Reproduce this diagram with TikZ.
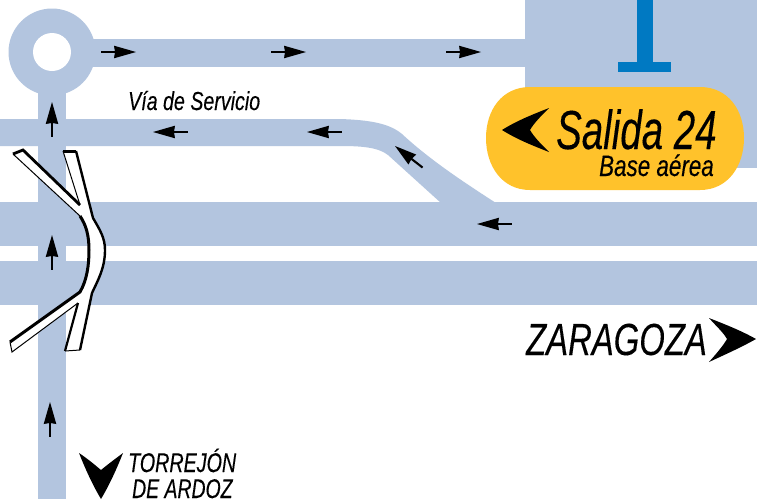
\documentclass[tikz,border=0pt]{standalone}
\usepackage{fontspec}
\setmainfont{Liberation Sans}[ItalicFeatures={FakeBold=0.25}]
\definecolor{roadc}{HTML}{B3C5DF}
\definecolor{signc}{HTML}{FFC22B}
\definecolor{tbarc}{HTML}{0079C2}
\tikzset{
  road/.style={fill=roadc,draw=none},
  bigtip/.style={fill=black,draw=none},
  label/.style={inner sep=0pt,anchor=base west,font=\itshape,text=black},
  pics/dirarrow/.style={code={
    \fill[black] (0,0) -- (-22,-6.3) -- (-21,0) -- (-22,6.3) -- cycle;
    \draw[black,line width=2.1pt] (-20,0) -- (-35,0);
  }}
}
\begin{document}
\begin{tikzpicture}[x=1pt,y=-1pt]
\useasboundingbox (0,0) rectangle (757,499);
\fill[white] (0,0) rectangle (757,499);
% roads
\fill[road] (52,52) circle[radius=43.5];
\fill[road] (38,70) rectangle (66,499);
\fill[road] (60,39) rectangle (530,67);
\fill[road] (525,0) rectangle (757,168);
\fill[road] (0,202) rectangle (757,246);
\fill[road] (0,261) rectangle (757,305);
\fill[road] (0,119) -- (340,119) .. controls (372,120) and (390,124) .. (402,134)
  .. controls (430,160) and (465,183) .. (496,203) -- (441,203)
  -- (388,155) .. controls (378,147) and (360,146) .. (340,146) -- (0,146) -- cycle;
\fill[white] (52,52) circle[radius=19];
% exit sign
\fill[signc] (530,87) -- (700,87) .. controls (728,87) and (744,110) .. (744,138)
  .. controls (744,166) and (728,190) .. (700,190) -- (530,190)
  .. controls (502,190) and (486,166) .. (486,138)
  .. controls (486,110) and (502,87) .. (530,87) -- cycle;
% blue T
\fill[tbarc] (637,0) rectangle (653,62);
\fill[tbarc] (618,62) rectangle (671,72);
% bridge
\fill[white] (13,154) -- (23,150) -- (80,205) -- (63,151) -- (76,151) -- (93,218)
  .. controls (100,230) and (105,238) .. (105,250)
  .. controls (105,268) and (98,280) .. (92,293)
  -- (80,350) -- (65,351) -- (78,303) -- (12,352) -- (10,342) -- (80,292)
  .. controls (87,280) and (89,265) .. (89,250)
  .. controls (89,235) and (86,225) .. (80,216) -- cycle;
\draw[black,line width=1pt] (13,154) -- (80,216);
\draw[black,line width=2.8pt] (13,154) -- (23,150) -- (80,205);
\draw[black,line width=1pt] (80,205) -- (63,151);
\draw[black,line width=2.8pt] (63,151.5) -- (76,151.5);
\draw[black,line width=2.4pt] (76,151) -- (93,218)
  .. controls (100,230) and (105,238) .. (105,250)
  .. controls (105,268) and (98,280) .. (92,293) -- (80,350);
\draw[black,line width=1pt] (80,350) -- (65,351);
\draw[black,line width=2.2pt] (65,351) -- (78,303);
\draw[black,line width=1pt] (78,303) -- (12,352) -- (10,342);
\draw[black,line width=3pt] (10,342) -- (80,292)
  .. controls (87,280) and (89,265) .. (89,250)
  .. controls (89,235) and (86,225) .. (80,216);
% direction arrows
\pic at (136,52) {dirarrow};
\pic at (306,52) {dirarrow};
\pic at (481,52) {dirarrow};
\pic[rotate=180] at (153,132) {dirarrow};
\pic[rotate=180] at (307,132) {dirarrow};
\pic[rotate=180] at (477,224) {dirarrow};
\pic[rotate=142] at (395,146) {dirarrow};
\pic[rotate=90] at (52,102) {dirarrow};
\pic[rotate=90] at (52,235) {dirarrow};
\pic[rotate=90] at (50,402) {dirarrow};
% big arrowheads
\fill[bigtip] (502,130) .. controls (518,120) and (534,114) .. (549,108)
  .. controls (541,116) and (534,123) .. (530,130)
  .. controls (534,137) and (541,144) .. (549,152)
  .. controls (534,146) and (518,140) .. (502,130) -- cycle;
\fill[bigtip] (756,339) .. controls (740,330) and (724,324) .. (709,318)
  .. controls (716,326) and (723,332) .. (727,339)
  .. controls (723,346) and (716,354) .. (709,362)
  .. controls (724,355) and (740,348) .. (756,339) -- cycle;
\fill[bigtip] (79,453) .. controls (88,459) and (95,465) .. (101,470)
  .. controls (107,465) and (115,459) .. (123,453)
  .. controls (117,468) and (110,484) .. (101,499)
  .. controls (92,484) and (85,468) .. (79,453) -- cycle;
% labels
\node[label,xscale=.70] (salida) at (556,149) {\fontsize{55}{55}\selectfont Salida 24};
\node[label,xscale=.76] (base) at (599,176) {\fontsize{29.5}{29.5}\selectfont Base aérea};
\node[label,xscale=.73] (zaragoza) at (526,355) {\fontsize{45}{45}\selectfont ZARAGOZA};
\node[label,xscale=.73] (torrejon) at (128,472) {\fontsize{27}{27}\selectfont TORREJÓN};
\node[label,xscale=.72] (ardoz) at (132,498) {\fontsize{27}{27}\selectfont DE ARDOZ};
\node[label,xscale=.755] (via) at (128,110) {\fontsize{26}{26}\selectfont Vía de Servicio};
\end{tikzpicture}
\end{document}
